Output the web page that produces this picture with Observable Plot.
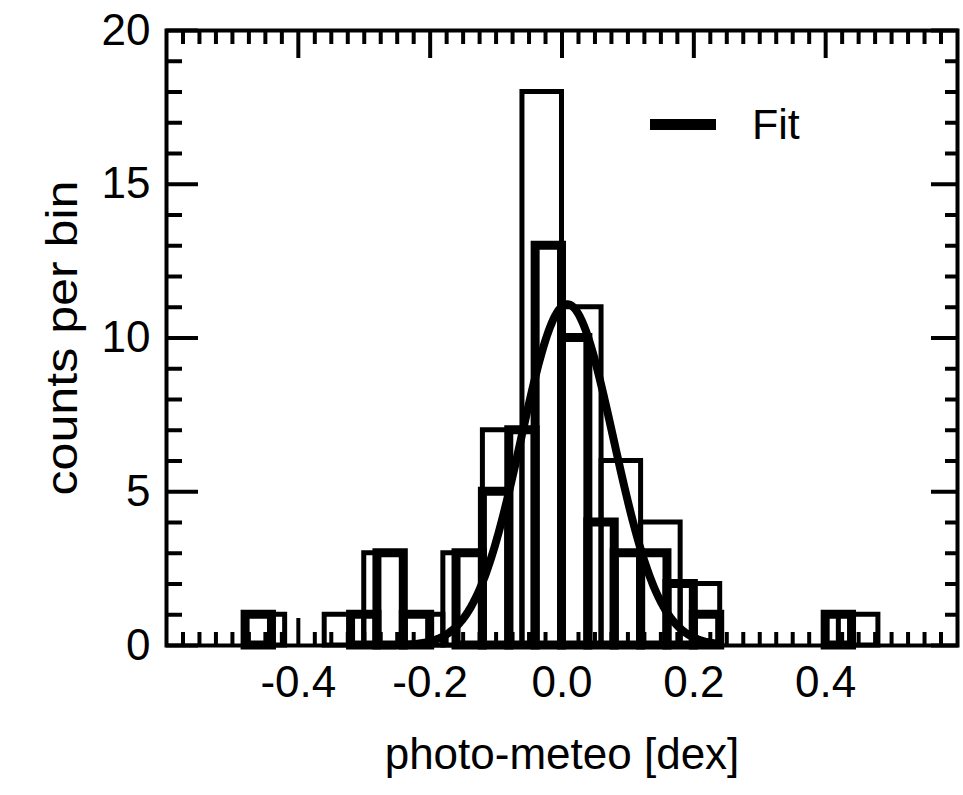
<!DOCTYPE html>
<html><head><meta charset="utf-8">
<script src="https://cdn.jsdelivr.net/npm/d3@7"></script>
<script src="https://cdn.jsdelivr.net/npm/@observablehq/plot@0.6"></script>
<style>
body{margin:0;background:#fff;font-family:"Liberation Sans",Arial,Helvetica,sans-serif;}
#wrap{position:relative;width:963px;height:795px;}
#legend{position:absolute;left:650px;top:100px;display:flex;align-items:center;font-size:43px;color:#000;line-height:48px;}
#legend .sw{width:66px;height:11px;background:#000;margin-right:36px;}
</style></head><body>
<div id="wrap"><div id="chart"></div><div id="legend"><div class="sw"></div><span>Fit</span></div></div>
<script>
// Thin-outline histogram: bin width 0.06 starting at -0.60
const thinStart = -0.60, thinWidth = 0.06;
const thinCounts = [0, 0, 1, 0, 1, 3, 1, 3, 7, 18, 11, 6, 4, 2, 0, 0, 0, 1, 0, 0];
// Thick-outline histogram: bin width 0.04 starting at -0.60
const thickStart = -0.60, thickWidth = 0.04;
const thickCounts = [0, 0, 0, 1, 0, 0, 0, 1, 3, 1, 0, 3, 5, 7, 13, 10, 4, 3, 3, 2, 1, 0, 0, 0, 0, 1, 0, 0, 0, 0];
// Gaussian fit parameters
const fitAmp = 11.1, fitMean = 0.008, fitSigma = 0.07, fitRange = [-0.27, 0.24];
// Axis ticks
const xLabelTicks = [-0.4, -0.2, 0.0, 0.2, 0.4];
const yLabelTicks = [0, 5, 10, 15, 20];
const xMinorTicks = d3.range(-23, 24).map(i => i * 0.025).filter(v => Math.abs(v / 0.2 - Math.round(v / 0.2)) > 1e-6);
const yMinorTicks = d3.range(1, 20).filter(v => v % 5 !== 0);

const toBins = (start, w, counts) => counts.map((c, i) => ({x1: start + i * w, x2: start + (i + 1) * w, c}));
const thinBins = toBins(thinStart, thinWidth, thinCounts);
const thickBins = toBins(thickStart, thickWidth, thickCounts);
const fitPts = d3.range(0, 201).map(i => {
  const x = fitRange[0] + (fitRange[1] - fitRange[0]) * i / 200;
  return {x, y: fitAmp * Math.exp(-0.5 * ((x - fitMean) / fitSigma) ** 2)};
});

const chart = Plot.plot({
  width: 963, height: 795,
  marginLeft: 166, marginRight: 6, marginTop: 30, marginBottom: 150,
  style: {fontSize: "44px", fontFamily: '"Liberation Sans", Arial, Helvetica, sans-serif', color: "#000", background: "#fff"},
  x: {domain: [-0.6, 0.6]},
  y: {domain: [0, 20]},
  marks: [
    Plot.rect(thinBins, {x1: "x1", x2: "x2", y1: 0, y2: "c", fill: "none", stroke: "#000", strokeWidth: 5}),
    Plot.rect(thickBins, {x1: "x1", x2: "x2", y1: 0, y2: "c", fill: "none", stroke: "#000", strokeWidth: 9}),
    Plot.line(fitPts, {x: "x", y: "y", stroke: "#000", strokeWidth: 8}),
    Plot.frame({stroke: "#000", strokeWidth: 4}),
    // inward ticks on all four sides
    Plot.axisX(xLabelTicks, {anchor: "top", tickSize: -27, strokeWidth: 4, tickFormat: () => "", label: null}),
    Plot.axisX(xMinorTicks, {anchor: "top", tickSize: -13, strokeWidth: 4, tickFormat: () => "", label: null}),
    Plot.axisX(xLabelTicks, {anchor: "bottom", tickSize: -27, strokeWidth: 4, tickFormat: () => "", label: null}),
    Plot.axisX(xMinorTicks, {anchor: "bottom", tickSize: -13, strokeWidth: 4, tickFormat: () => "", label: null}),
    Plot.axisY(yLabelTicks, {anchor: "left", tickSize: -32, strokeWidth: 4, tickFormat: () => "", label: null}),
    Plot.axisY(yMinorTicks, {anchor: "left", tickSize: -16, strokeWidth: 4, tickFormat: () => "", label: null}),
    Plot.axisY(yLabelTicks, {anchor: "right", tickSize: -27, strokeWidth: 4, tickFormat: () => "", label: null}),
    Plot.axisY(yMinorTicks, {anchor: "right", tickSize: -13, strokeWidth: 4, tickFormat: () => "", label: null}),
    // tick labels
    Plot.axisX(xLabelTicks, {anchor: "bottom", tickSize: 0, tickPadding: 20, tickFormat: d => d.toFixed(1), label: null}),
    Plot.axisY(yLabelTicks, {anchor: "left", tickSize: 0, tickPadding: 16, tickFormat: d => String(d), label: null}),
    // axis titles
    Plot.text(["counts per bin"], {frameAnchor: "left", textAnchor: "middle", dx: -104, rotate: -90, fontSize: 44, className: "ylab"}),
    Plot.text(["photo-meteo [dex]"], {frameAnchor: "bottom", dy: 123, fontSize: 44})
  ]
});
// the reference's rotated y title is drawn elongated along its reading direction
d3.select(chart).selectAll(".ylab text").attr("textLength", 315).attr("lengthAdjust", "spacingAndGlyphs");
document.getElementById("chart").appendChild(chart);
</script>
</body></html>
